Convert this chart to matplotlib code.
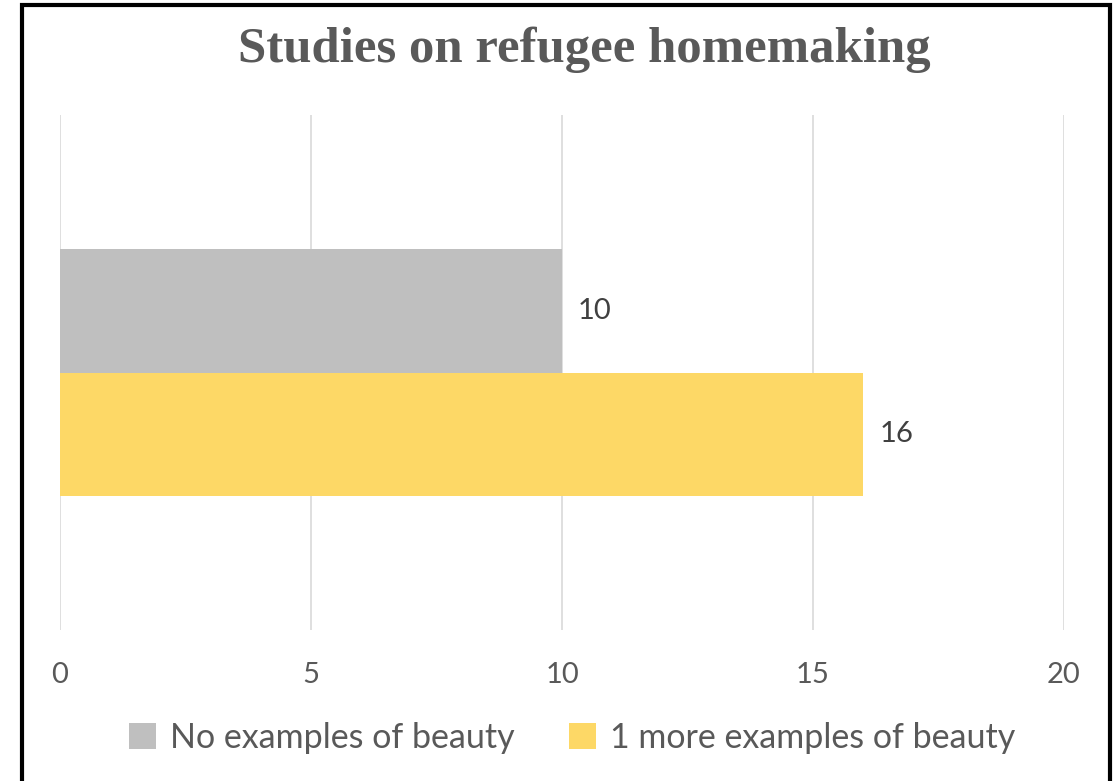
import matplotlib
matplotlib.use("Agg")
import matplotlib.pyplot as plt
from matplotlib.patches import Rectangle, Patch

W, H = 1116, 781
DPI = 100

title = "Studies on refugee homemaking"
series_names = ["No examples of beauty", "1 more examples of beauty"]
series_values = [10, 16]
series_colors = ["#BFBFBF", "#FDD866"]
x_ticks = [0, 5, 10, 15, 20]

TXT = "#595959"
plt.rcParams["font.family"] = ["Lato", "DejaVu Sans"]

fig = plt.figure(figsize=(W / DPI, H / DPI), dpi=DPI)


def px_axes(x0, y0, x1, y1):
    # pixel box (top-left origin) -> figure fraction
    return [x0 / W, 1 - y1 / H, (x1 - x0) / W, (y1 - y0) / H]


ax = fig.add_axes(px_axes(60, 115, 1064, 630))

bar_h = 0.239
offsets = [bar_h / 2, -bar_h / 2]
for name, val, col, off in zip(series_names, series_values, series_colors, offsets):
    ax.barh(off, val, height=bar_h, color=col, label=name, zorder=2)
    ax.text(val + 0.32, off, str(val), va="center", ha="left",
            fontsize=21, color="#404040")

ax.set_xlim(0, 20)
ax.set_ylim(-0.5, 0.5)
ax.set_xticks(x_ticks)
ax.set_xticklabels([str(t) for t in x_ticks], fontsize=21, color=TXT)
ax.set_yticks([])
ax.tick_params(axis="x", length=0, pad=23)
ax.grid(axis="x", color="#D9D9D9", linewidth=1.2, zorder=0)
for s in ax.spines.values():
    s.set_visible(False)

fig.text(584 / W, 1 - 50 / H, title, ha="center", va="center",
         fontsize=36.5, fontweight="bold", color=TXT,
         family=["Liberation Serif", "DejaVu Serif"])

handles = [Patch(facecolor=c, edgecolor="none") for c in series_colors]
fig.legend(handles, series_names, loc="center", bbox_to_anchor=(572 / W, 1 - 738 / H),
           ncol=2, frameon=False, fontsize=24.5, labelcolor=TXT,
           handlelength=0.8, handleheight=0.8, handletextpad=0.4,
           columnspacing=1.6)

# outer border (bottom edge runs off the image)
fig.patches.append(Rectangle((22 / W, -0.05), (1110 - 22) / W, 1.05 - 5.5 / H,
                             transform=fig.transFigure, fill=False,
                             edgecolor="black", linewidth=3))

fig.savefig("out.png", dpi=DPI)
